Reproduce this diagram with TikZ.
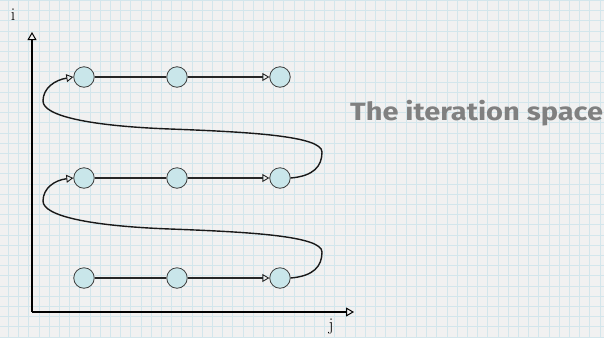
\documentclass[tikz,border=0pt]{standalone}
\usepackage{fontspec}
\newfontfamily\titlefont{Fira Sans}
\usetikzlibrary{arrows.meta}
\definecolor{paper}{HTML}{F1F1F1}
\definecolor{gridblue}{HTML}{D3E6EC}
\definecolor{cellfill}{HTML}{C9E6EA}
\definecolor{cellline}{HTML}{3A3A3A}
\definecolor{titlegray}{HTML}{808080}
\tikzset{
  cell/.style={circle, draw=cellline, fill=cellfill, line width=0.8pt,
    minimum size=20.5pt, inner sep=0pt},
  flow/.style={line width=1.2pt, draw=black!85},
  openhead/.style={-{Triangle[open, length=7pt, width=8pt, line width=0.9pt]}},
  wrap/.style={line width=1.4pt, draw=black!90},
  axis/.style={line width=1.5pt, -{Triangle[open, length=8pt, width=9pt, line width=1pt]}},
  axislabel/.style={font=\fontsize{18}{18}\selectfont, inner sep=0pt}
}
\begin{document}
\begin{tikzpicture}[x=1pt, y=-1pt]
  \useasboundingbox (0,0) rectangle (604,338);
  % squared paper
  \fill[paper] (0,0) rectangle (604,338);
  \foreach \k in {0,...,59} {
    \draw[gridblue, line width=0.7pt] ({8.3+10.2*\k},0) -- ({8.3+10.2*\k},338);
  }
  \foreach \k in {0,...,33} {
    \draw[gridblue, line width=0.7pt] (0,{0.3+10.2*\k}) -- (604,{0.3+10.2*\k});
  }

  % axes
  \coordinate (o) at (32,312);
  \coordinate (itop) at (32,32);
  \coordinate (jend) at (354,312);
  \draw[axis] (o) -- (itop);
  \draw[axis] (o) -- (jend);
  \node[axislabel] (ilabel) at (13,15) {i};
  \node[axislabel] (jlabel) at (331,327) {j};

  % iteration points
  \foreach \r/\y in {t/77, m/178, b/278} {
    \node[cell] (\r1) at (84,\y) {};
    \node[cell] (\r2) at (177,\y) {};
    \node[cell] (\r3) at (280,\y) {};
    \draw[flow] (\r1) -- (\r2);
    \draw[flow, openhead] (\r2) -- (\r3);
  }

  % row-to-row traversal
  \draw[wrap, openhead] (b3.east) .. controls (314,276) and (322,266) .. (322,252)
    .. controls (322,236) and (250,232) .. (170,229)
    .. controls (90,226) and (43,216) .. (43,201)
    .. controls (43,188) and (55,180) .. (m1.west);
  \draw[wrap, openhead] (m3.east) .. controls (314,176) and (322,166) .. (322,152)
    .. controls (322,136) and (250,132) .. (170,129)
    .. controls (90,126) and (43,116) .. (43,101)
    .. controls (43,88) and (55,80) .. (t1.west);

  % caption
  \node[text=titlegray, font=\titlefont\bfseries\fontsize{25}{25}\selectfont,
    anchor=base west, inner sep=0pt] (title) at (350,120)
    {\scalebox{1.16}[1]{The iteration space}};
\end{tikzpicture}
\end{document}
